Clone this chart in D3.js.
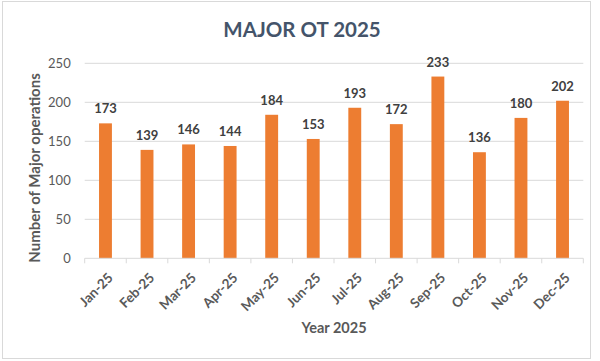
<!DOCTYPE html>
<html>
<head>
<meta charset="utf-8">
<script src="https://cdn.jsdelivr.net/npm/d3@7"></script>
<style>
  body { margin: 0; background: #fff; }
  text { font-family: Lato, "Open Sans", sans-serif; }
</style>
</head>
<body>
<div id="chart"></div>
<script>
// Data
const months = ["Jan-25", "Feb-25", "Mar-25", "Apr-25", "May-25", "Jun-25",
                "Jul-25", "Aug-25", "Sep-25", "Oct-25", "Nov-25", "Dec-25"];
const operations = [173, 139, 146, 144, 184, 153, 193, 172, 233, 136, 180, 202];
const yTicks = [0, 50, 100, 150, 200, 250];

const width = 600, height = 361;
const margin = { top: 63.3, right: 16.7, bottom: 102.7, left: 84.7 };
const innerW = width - margin.left - margin.right;
const innerH = height - margin.top - margin.bottom;

const svg = d3.select("#chart").append("svg")
  .attr("width", width)
  .attr("height", height);

// chart frame
svg.append("rect")
  .attr("x", 2.5).attr("y", 1.5)
  .attr("width", 588).attr("height", 357)
  .attr("fill", "#fff")
  .attr("stroke", "#d9d9d9");

const g = svg.append("g").attr("transform", `translate(${margin.left},${margin.top})`);

const x = d3.scaleBand().domain(months).range([0, innerW]).paddingInner(0.69).paddingOuter(0.345);
const y = d3.scaleLinear().domain([0, 250]).range([innerH, 0]);

// gridlines
g.append("g")
  .selectAll("line")
  .data(yTicks.slice(1))
  .enter().append("line")
  .attr("x1", 0).attr("x2", innerW)
  .attr("y1", d => y(d)).attr("y2", d => y(d))
  .attr("stroke", "#d9d9d9");

// y axis labels
g.append("g")
  .selectAll("text")
  .data(yTicks)
  .enter().append("text")
  .attr("x", -14)
  .attr("y", d => y(d))
  .attr("dy", "0.35em")
  .attr("text-anchor", "end")
  .attr("fill", "#595959")
  .attr("font-size", "13px")
  .text(d => d);

// bars
g.append("g")
  .selectAll("rect")
  .data(operations)
  .enter().append("rect")
  .attr("x", (d, i) => x(months[i]))
  .attr("y", d => y(d))
  .attr("width", x.bandwidth())
  .attr("height", d => innerH - y(d))
  .attr("fill", "#ed7d31");

// value labels
g.append("g")
  .selectAll("text")
  .data(operations)
  .enter().append("text")
  .attr("x", (d, i) => x(months[i]) + x.bandwidth() / 2)
  .attr("y", d => y(d) - 10)
  .attr("text-anchor", "middle")
  .attr("fill", "#404040")
  .attr("font-size", "13px")
  .attr("font-weight", "bold")
  .text(d => d);

// x axis
const step = innerW / months.length;
const xAxis = g.append("g").attr("transform", `translate(0,${innerH})`);
xAxis.append("line")
  .attr("x1", 0).attr("x2", innerW)
  .attr("stroke", "#d9d9d9");
xAxis.selectAll("line.tick")
  .data(d3.range(months.length + 1))
  .enter().append("line")
  .attr("class", "tick")
  .attr("x1", d => d * step).attr("x2", d => d * step)
  .attr("y1", 0).attr("y2", 5)
  .attr("stroke", "#d9d9d9");
xAxis.selectAll("text")
  .data(months)
  .enter().append("text")
  .attr("transform", d => `translate(${x(d) + x.bandwidth() / 2 + 5},${17}) rotate(-45)`)
  .attr("text-anchor", "end")
  .attr("dy", "0.35em")
  .attr("fill", "#595959")
  .attr("font-size", "13.5px")
  .attr("font-weight", "bold")
  .text(d => d);

// titles
svg.append("text")
  .attr("x", 302)
  .attr("y", 37)
  .attr("text-anchor", "middle")
  .attr("fill", "#44546a")
  .attr("font-size", "20.5px")
  .attr("font-weight", "bold")
  .text("MAJOR OT 2025");

svg.append("text")
  .attr("x", margin.left + innerW / 2)
  .attr("y", 333)
  .attr("text-anchor", "middle")
  .attr("fill", "#595959")
  .attr("font-size", "14.5px")
  .attr("font-weight", "bold")
  .text("Year 2025");

svg.append("text")
  .attr("transform", `translate(40,168) rotate(-90)`)
  .attr("text-anchor", "middle")
  .attr("fill", "#595959")
  .attr("font-size", "15px")
  .attr("font-weight", "bold")
  .text("Number of Major operations");
</script>
</body>
</html>
